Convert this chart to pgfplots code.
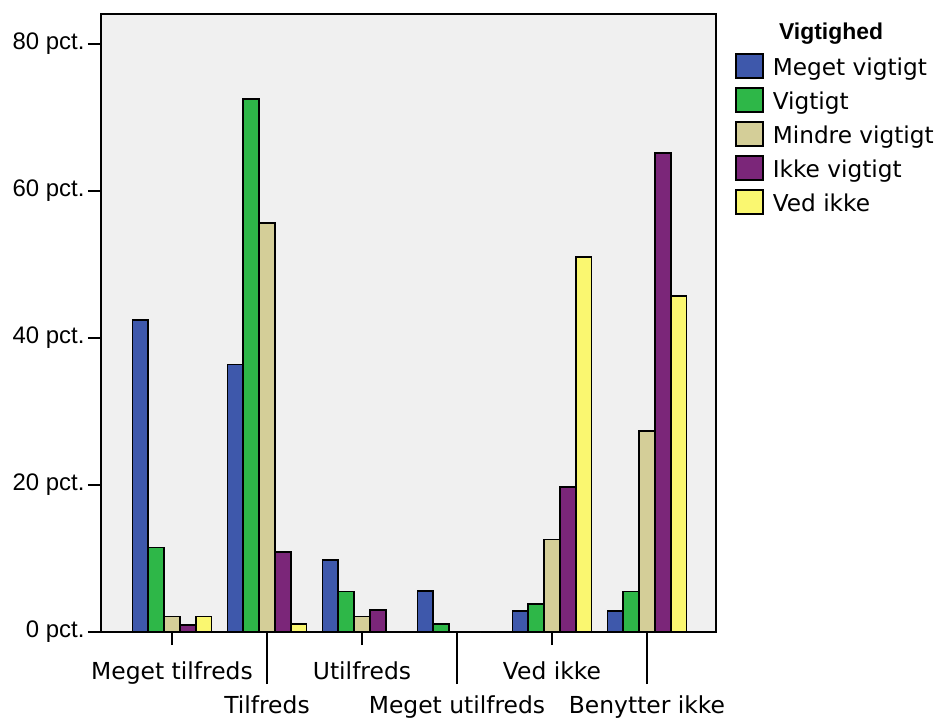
\documentclass[border=0pt]{standalone}
\usepackage{pgfplots}
\pgfplotsset{compat=1.18}
\usepackage{fontspec}
\setmainfont{DejaVu Sans}
\newfontfamily\arial{Liberation Sans}

\definecolor{cblue}{RGB}{62,88,171}
\definecolor{cgreen}{RGB}{46,183,72}
\definecolor{ctan}{RGB}{212,206,152}
\definecolor{cpurple}{RGB}{123,38,121}
\definecolor{cyellow}{RGB}{250,247,112}
\definecolor{bg}{RGB}{240,240,240}

\begin{document}
\begin{tikzpicture}
\useasboundingbox (-101bp,-88bp) rectangle (835bp,632bp);
\begin{axis}[
  at={(0,0)}, anchor=south west,
  width=615bp, height=618bp, scale only axis,
  xmin=-0.747, xmax=5.726, ymin=0, ymax=84.1,
  axis background/.style={fill=bg},
  axis line style={line width=1.3bp},
  ybar, bar width=0.166,
  every axis plot/.append style={draw=black, line width=1.8bp},
  xtick pos=bottom, ytick pos=left,
  tick align=outside, major tick length=13bp,
  tick style={black, line width=1.3bp},
  xtick={0,2,4}, xticklabels={Meget tilfreds,Utilfreds,Ved ikke},
  extra x ticks={1,3,5},
  extra x tick labels={Tilfreds,Meget utilfreds,Benytter ikke},
  extra x tick style={major tick length=52bp, xticklabel style={yshift=4.5bp}},
  xticklabel style={font=\fontsize{23.5}{26}\selectfont, anchor=north, yshift=-13bp},
  ytick={0,20,40,60,80},
  yticklabels={0 pct.,20 pct.,40 pct.,60 pct.,80 pct.},
  yticklabel style={font=\arial\fontsize{24}{26}\selectfont},
  legend style={at={(1,1)}, anchor=north west, xshift=19bp, yshift=-39.5bp,
    draw=none, fill=none, inner sep=0pt, outer sep=0pt,
    row sep=8.2bp, column sep=9bp,
    font=\fontsize{23.3}{26}\selectfont,
    nodes={inner sep=0pt, text height=21bp, text depth=3bp, anchor=base west}},
  legend cell align=left,
  legend image code/.code={\draw[#1, draw=black, line width=1.8bp] (0bp,-3bp) rectangle (27bp,21bp);},
]
\addplot[fill=cblue, bar shift=-0.332] coordinates {(0,42.5)(1,36.4)(2,9.8)(3,5.6)(4,2.9)(5,2.9)};
\addplot[fill=cgreen, bar shift=-0.166] coordinates {(0,11.5)(1,72.5)(2,5.5)(3,1.1)(4,3.8)(5,5.5)};
\addplot[fill=ctan, bar shift=0] coordinates {(0,2.1)(1,55.7)(2,2.1)(3,0)(4,12.6)(5,27.3)};
\addplot[fill=cpurple, bar shift=0.166] coordinates {(0,1.0)(1,10.9)(2,3.0)(3,0)(4,19.7)(5,65.2)};
\addplot[fill=cyellow, bar shift=0.332] coordinates {(0,2.1)(1,1.1)(2,0)(3,0)(4,51.0)(5,45.7)};
\legend{Meget vigtigt,Vigtigt,Mindre vigtigt,Ikke vigtigt,Ved ikke}
\end{axis}
\node[anchor=base, font=\arial\bfseries\fontsize{23}{26}\selectfont] at (730bp,592bp) {Vigtighed};
\end{tikzpicture}
\end{document}
